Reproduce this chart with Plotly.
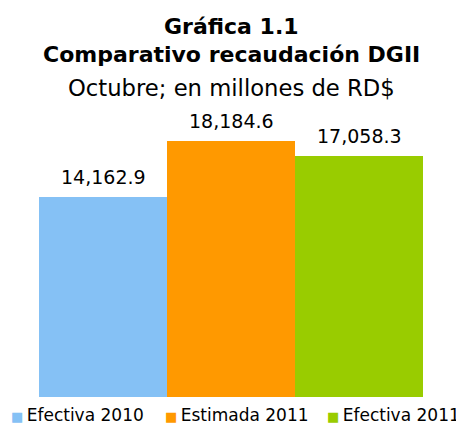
import plotly.graph_objects as go

# datos
series = ["Efectiva 2010", "Estimada 2011", "Efectiva 2011"]
valores = [14162.9, 18184.6, 17058.3]
etiquetas = ["14,162.9", "18,184.6", "17,058.3"]
colores = ["#85C1F5", "#FF9900", "#99CC00"]

FONT = "DejaVu Sans"

fig = go.Figure()

fig.add_trace(go.Bar(
    x=series,
    y=valores,
    marker=dict(color=colores, line=dict(width=0)),
    hoverinfo="skip",
    showlegend=False,
))

# etiquetas de valor sobre cada barra
for s, v, t in zip(series, valores, etiquetas):
    fig.add_annotation(
        x=s, y=v,
        text=t,
        showarrow=False,
        yanchor="middle",
        yshift=20,
        font=dict(family=FONT, size=19, color="#000000"),
    )

# titulo (tres lineas)
titulo = [
    ("<b>Gráfica 1.1</b>", 22, 1.315),
    ("<b>Comparativo recaudación DGII</b>", 22, 1.213),
    ("Octubre; en millones de RD$", 22.7, 1.096),
]
for txt, sz, yy in titulo:
    fig.add_annotation(
        xref="paper", yref="paper",
        x=0.5, y=yy,
        text=txt,
        showarrow=False,
        xanchor="center", yanchor="middle",
        font=dict(family=FONT, size=sz, color="#000000"),
    )

# leyenda manual en una sola fila
leyenda_x = [-0.078, 0.323, 0.744]
for s, c, xx in zip(series, colores, leyenda_x):
    fig.add_annotation(
        xref="paper", yref="paper",
        x=xx, y=-0.064,
        text=f"<span style='color:{c};font-size:13px'>■</span>&#8201;{s}",
        showarrow=False,
        xanchor="left", yanchor="middle",
        font=dict(family=FONT, size=17, color="#000000"),
    )

# la pagina agrega 8px de margen al body: la figura se reduce en 8px
fig.update_layout(
    width=456,
    height=416,
    bargap=0,
    showlegend=False,
    plot_bgcolor="white",
    paper_bgcolor="white",
    margin=dict(l=31, r=41, t=107, b=27, autoexpand=False),
)

fig.update_xaxes(
    type="category",
    range=[-0.5, 2.5],
    showticklabels=False,
    showgrid=False,
    zeroline=False,
    showline=False,
)
fig.update_yaxes(
    range=[0, 20000],
    showticklabels=False,
    showgrid=False,
    zeroline=False,
    showline=False,
)

fig.write_html("out.html")
